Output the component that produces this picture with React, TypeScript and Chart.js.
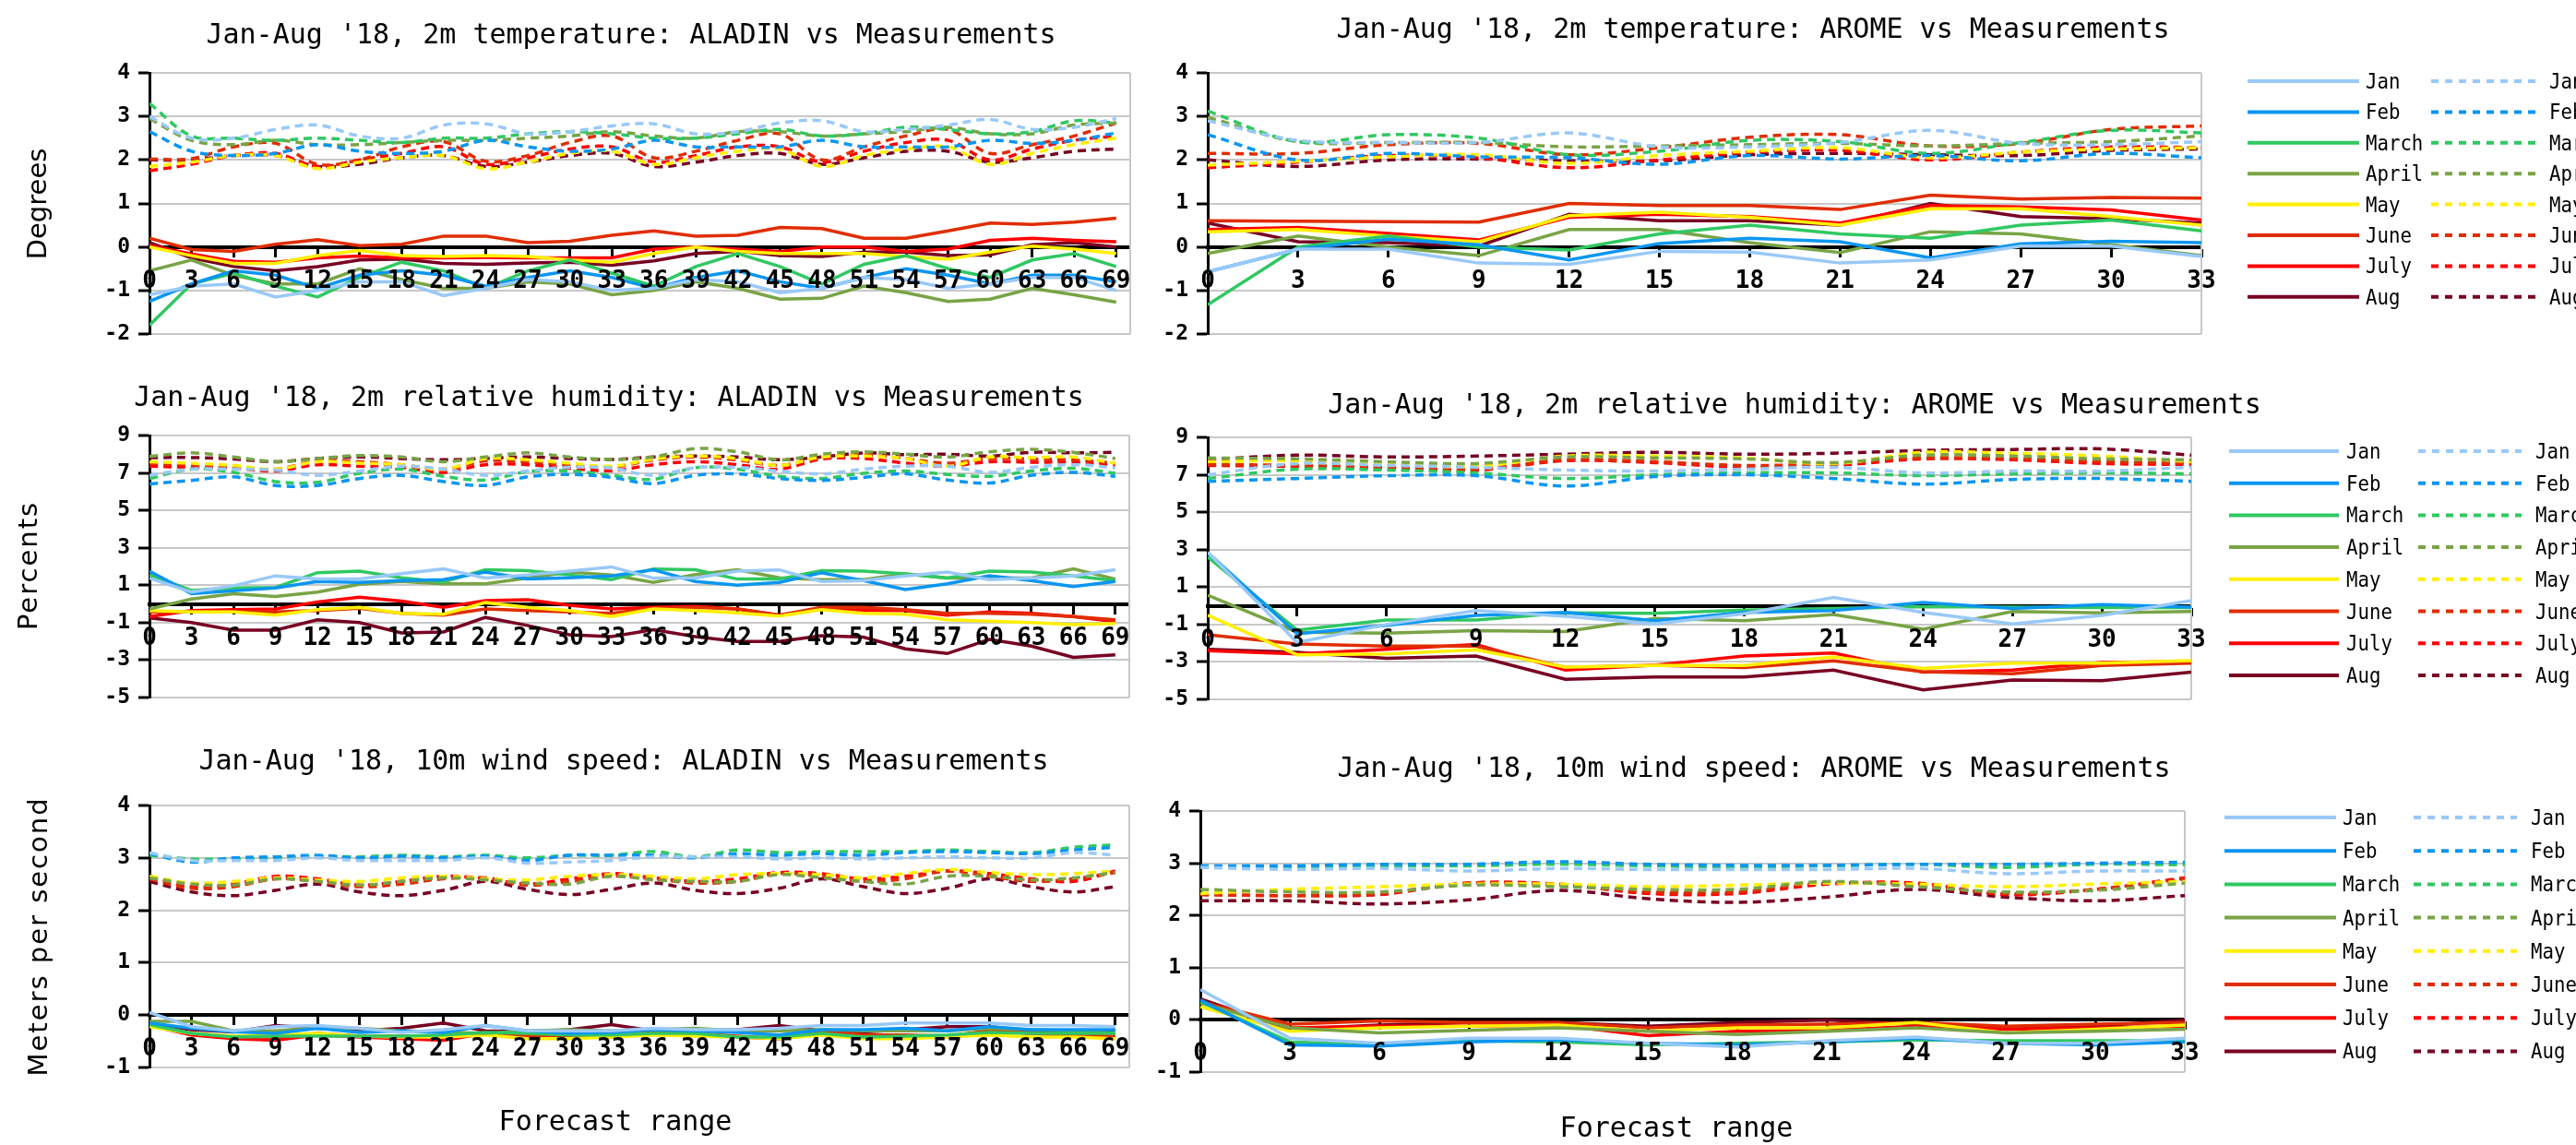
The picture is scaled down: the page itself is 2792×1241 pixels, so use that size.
import { useEffect, useRef } from "react";
import { Chart, registerables } from "chart.js";

Chart.register(...registerables);

const months = ["Jan", "Feb", "March", "April", "May", "June", "July", "Aug"];
const monthColors = ["#99c9f8", "#0a96f0", "#30c862", "#79a446", "#ffef00", "#e02d00", "#ff0000", "#780023"];

const hoursAladin = [0, 3, 6, 9, 12, 15, 18, 21, 24, 27, 30, 33, 36, 39, 42, 45, 48, 51, 54, 57, 60, 63, 66, 69];
const hoursArome = [0, 3, 6, 9, 12, 15, 18, 21, 24, 27, 30, 33];

// y axis ranges [min, max, step]
const tempAxis = [-2, 4, 1];
const humAxis = [-5, 9, 2];
const windAxis = [-1, 4, 1];

// 2m temperature, ALADIN (solid = first group, dashed = second group), one row per month
const tempAladinSolid = [
  [-1.1, -0.9, -0.85, -1.15, -1.0, -0.8, -0.8, -1.12, -0.95, -0.75, -0.8, -1.0, -0.95, -0.75, -0.8, -1.05, -0.95, -0.7, -0.75, -0.95, -0.85, -0.7, -0.7, -1.0],
  [-1.25, -0.85, -0.55, -0.65, -0.95, -0.65, -0.55, -0.65, -0.9, -0.7, -0.55, -0.7, -0.95, -0.7, -0.55, -0.8, -0.95, -0.7, -0.5, -0.65, -0.85, -0.65, -0.65, -0.8],
  [-1.8, -0.85, -0.6, -0.9, -1.15, -0.7, -0.35, -0.55, -0.95, -0.55, -0.3, -0.6, -0.9, -0.45, -0.15, -0.45, -0.85, -0.4, -0.2, -0.5, -0.7, -0.3, -0.15, -0.45],
  [-0.55, -0.3, -0.65, -0.85, -0.85, -0.5, -0.75, -0.95, -0.95, -0.8, -0.85, -1.1, -1.0, -0.8, -0.95, -1.2, -1.18, -0.9, -1.05, -1.25, -1.2, -0.95, -1.1, -1.27],
  [0, -0.2, -0.38, -0.38, -0.2, -0.08, -0.2, -0.22, -0.2, -0.22, -0.3, -0.35, -0.15, 0, -0.1, -0.15, -0.15, -0.15, -0.22, -0.28, -0.12, 0.02, -0.05, -0.15],
  [0.2, -0.06, -0.1, 0.06, 0.17, 0.03, 0.06, 0.25, 0.25, 0.1, 0.13, 0.27, 0.37, 0.25, 0.27, 0.45, 0.42, 0.2, 0.2, 0.37, 0.55, 0.52, 0.57, 0.66],
  [0.03, -0.16, -0.33, -0.35, -0.25, -0.21, -0.25, -0.25, -0.24, -0.25, -0.25, -0.25, -0.05, 0, -0.05, -0.1, 0, 0, -0.1, -0.05, 0.15, 0.2, 0.15, 0.12],
  [0.1, -0.25, -0.45, -0.55, -0.45, -0.3, -0.28, -0.38, -0.4, -0.37, -0.35, -0.42, -0.32, -0.15, -0.1, -0.2, -0.22, -0.12, -0.12, -0.2, -0.18, 0.05, 0.1, 0],
];
const tempAladinDashed = [
  [3.0, 2.5, 2.5, 2.7, 2.8, 2.55, 2.5, 2.8, 2.83, 2.6, 2.65, 2.78, 2.83, 2.6, 2.65, 2.85, 2.9, 2.65, 2.7, 2.8, 2.93, 2.7, 2.75, 2.95],
  [2.65, 2.2, 2.1, 2.15, 2.35, 2.2, 2.15, 2.2, 2.45, 2.3, 2.2, 2.25, 2.45, 2.3, 2.3, 2.3, 2.45, 2.3, 2.3, 2.3, 2.45, 2.38, 2.45, 2.62],
  [3.3, 2.55, 2.5, 2.45, 2.5, 2.45, 2.4, 2.5, 2.5, 2.6, 2.65, 2.6, 2.5, 2.5, 2.6, 2.7, 2.55, 2.6, 2.75, 2.7, 2.6, 2.65, 2.9, 2.85],
  [2.95, 2.45, 2.35, 2.45, 2.35, 2.35, 2.4, 2.45, 2.45, 2.5, 2.55, 2.65, 2.55, 2.5, 2.65, 2.65, 2.55, 2.6, 2.65, 2.75, 2.6, 2.6, 2.8, 2.85],
  [1.85, 1.95, 2.1, 2.1, 1.8, 1.95, 2.05, 2.1, 1.8, 1.95, 2.15, 2.2, 1.9, 2.05, 2.2, 2.25, 1.85, 2.1, 2.25, 2.3, 1.9, 2.15, 2.35, 2.5],
  [2.02, 2.03, 2.3, 2.38, 1.9, 2.0, 2.3, 2.42, 1.97, 2.1, 2.4, 2.55, 2.05, 2.2, 2.45, 2.6, 2.0, 2.3, 2.55, 2.7, 2.15, 2.35, 2.55, 2.85],
  [1.75, 1.9, 2.1, 2.15, 1.85, 2.0, 2.15, 2.3, 1.9, 2.05, 2.25, 2.3, 1.95, 2.1, 2.3, 2.3, 1.95, 2.2, 2.4, 2.45, 2.0, 2.25, 2.45, 2.55],
  [2.0, 2.0, 2.1, 2.1, 1.85, 1.9, 2.05, 2.1, 1.85, 1.95, 2.1, 2.15, 1.85, 1.95, 2.1, 2.15, 1.9, 2.05, 2.2, 2.2, 1.95, 2.05, 2.2, 2.25],
];

// 2m temperature, AROME
const tempAromeSolid = [
  [-0.57, -0.05, -0.05, -0.37, -0.4, -0.1, -0.12, -0.37, -0.3, 0.02, 0.02, -0.22],
  [-0.57, -0.05, 0.18, 0.05, -0.3, 0.08, 0.2, 0.12, -0.25, 0.07, 0.13, 0.1],
  [-1.33, 0.0, 0.25, 0.0, -0.07, 0.3, 0.5, 0.3, 0.2, 0.5, 0.62, 0.37],
  [-0.15, 0.25, 0.0, -0.2, 0.4, 0.4, 0.1, -0.13, 0.35, 0.3, 0.05, -0.2],
  [0.35, 0.4, 0.25, 0.12, 0.72, 0.8, 0.68, 0.5, 0.88, 0.88, 0.7, 0.5],
  [0.6, 0.59, 0.58, 0.57, 1.0, 0.95, 0.95, 0.86, 1.19, 1.1, 1.14, 1.12],
  [0.4, 0.45, 0.31, 0.16, 0.68, 0.75, 0.7, 0.55, 0.95, 0.92, 0.85, 0.62],
  [0.55, 0.12, 0.1, 0.02, 0.75, 0.6, 0.6, 0.5, 1.0, 0.7, 0.65, 0.55],
];
const tempAromeDashed = [
  [2.9, 2.45, 2.4, 2.4, 2.62, 2.3, 2.3, 2.4, 2.68, 2.38, 2.35, 2.42],
  [2.58, 2.0, 2.15, 2.07, 2.05, 1.9, 2.1, 2.02, 2.1, 1.98, 2.15, 2.05],
  [3.12, 2.42, 2.58, 2.5, 2.12, 2.2, 2.45, 2.42, 2.15, 2.4, 2.68, 2.62],
  [2.98, 2.42, 2.4, 2.4, 2.3, 2.32, 2.35, 2.38, 2.32, 2.38, 2.42, 2.55],
  [1.88, 1.97, 2.07, 2.12, 1.92, 2.1, 2.2, 2.28, 2.05, 2.18, 2.25, 2.28],
  [2.15, 2.15, 2.35, 2.38, 2.12, 2.28, 2.52, 2.58, 2.32, 2.38, 2.7, 2.78],
  [1.82, 1.95, 2.1, 2.05, 1.82, 2.0, 2.18, 2.22, 2.0, 2.18, 2.3, 2.28],
  [2.0, 1.85, 2.0, 2.02, 1.98, 1.98, 2.12, 2.15, 2.12, 2.1, 2.22, 2.25],
];

// 2m relative humidity, ALADIN
const humAladinSolid = [
  [1.38, 0.64, 0.97, 1.5, 1.33, 1.33, 1.62, 1.87, 1.38, 1.55, 1.75, 1.98, 1.38, 1.38, 1.75, 1.82, 1.2, 1.25, 1.5, 1.7, 1.3, 1.38, 1.5, 1.83],
  [1.75, 0.55, 0.7, 0.85, 1.2, 1.15, 1.25, 1.3, 1.7, 1.33, 1.4, 1.5, 1.83, 1.2, 1.0, 1.15, 1.67, 1.25, 0.77, 1.08, 1.5, 1.25, 0.93, 1.2],
  [1.55, 0.72, 0.85, 0.88, 1.67, 1.75, 1.4, 1.18, 1.83, 1.78, 1.55, 1.3, 1.87, 1.83, 1.33, 1.33, 1.78, 1.75, 1.6, 1.38, 1.75, 1.7, 1.5, 1.25],
  [-0.27, 0.26, 0.55, 0.4, 0.63, 1.05, 1.2, 1.08, 1.08, 1.38, 1.7, 1.55, 1.15, 1.57, 1.83, 1.4, 1.3, 1.3, 1.6, 1.38, 1.4, 1.38, 1.87, 1.33],
  [-0.35, -0.43, -0.43, -0.6, -0.3, -0.18, -0.5, -0.55, 0.07, -0.18, -0.35, -0.67, -0.27, -0.35, -0.48, -0.65, -0.3, -0.5, -0.55, -0.85, -0.92, -1.0, -1.1, -1.05],
  [-0.43, -0.4, -0.4, -0.43, -0.35, -0.23, -0.5, -0.6, -0.27, -0.35, -0.43, -0.5, -0.23, -0.18, -0.27, -0.6, -0.18, -0.18, -0.3, -0.5, -0.5, -0.55, -0.67, -0.85],
  [-0.67, -0.35, -0.3, -0.27, 0.1, 0.36, 0.15, -0.18, 0.18, 0.23, -0.07, -0.27, -0.18, -0.13, -0.27, -0.6, -0.27, -0.35, -0.35, -0.6, -0.43, -0.5, -0.67, -0.95],
  [-0.75, -1.0, -1.4, -1.4, -0.85, -1.0, -1.55, -1.5, -0.72, -1.15, -1.65, -1.75, -1.38, -1.75, -2.0, -2.0, -1.7, -1.77, -2.4, -2.65, -1.9, -2.25, -2.85, -2.72],
];
const humAladinDashed = [
  [6.87, 7.2, 7.2, 7.15, 6.87, 7.1, 7.36, 7.2, 6.87, 7.1, 7.3, 7.25, 6.87, 7.28, 7.3, 7.1, 6.95, 7.2, 7.36, 7.36, 7.03, 7.3, 7.44, 7.28],
  [6.41, 6.6, 6.79, 6.33, 6.33, 6.7, 6.87, 6.54, 6.33, 6.79, 6.92, 6.76, 6.43, 6.87, 6.95, 6.7, 6.6, 6.76, 6.95, 6.62, 6.46, 6.87, 7.03, 6.82],
  [6.7, 7.2, 7.03, 6.54, 6.5, 6.98, 7.2, 6.82, 6.62, 7.07, 7.1, 6.87, 6.66, 7.28, 7.2, 6.82, 6.7, 6.98, 7.1, 6.92, 6.82, 7.1, 7.25, 6.98],
  [7.88, 8.07, 7.85, 7.6, 7.77, 7.93, 7.85, 7.6, 7.85, 8.07, 7.85, 7.72, 7.85, 8.3, 8.13, 7.7, 8.0, 8.13, 8.0, 7.85, 8.13, 8.26, 8.1, 7.77],
  [7.6, 7.52, 7.4, 7.2, 7.6, 7.52, 7.44, 7.2, 7.77, 7.7, 7.52, 7.36, 7.74, 7.9, 7.77, 7.4, 7.85, 7.9, 7.77, 7.36, 7.85, 7.82, 7.85, 7.52],
  [7.52, 7.41, 7.31, 7.2, 7.64, 7.6, 7.44, 7.2, 7.64, 7.6, 7.41, 7.31, 7.69, 7.85, 7.69, 7.41, 7.8, 7.96, 7.77, 7.52, 7.77, 7.74, 7.69, 7.52],
  [7.36, 7.3, 7.25, 7.1, 7.44, 7.36, 7.3, 7.03, 7.44, 7.44, 7.25, 7.12, 7.44, 7.6, 7.44, 7.2, 7.74, 7.77, 7.52, 7.36, 7.6, 7.57, 7.57, 7.4],
  [7.82, 7.82, 7.74, 7.6, 7.77, 7.85, 7.77, 7.7, 7.77, 7.85, 7.77, 7.72, 7.85, 7.9, 7.85, 7.7, 7.85, 8.07, 7.97, 8.0, 7.9, 8.1, 8.07, 8.1],
];

// 2m relative humidity, AROME
const humAromeSolid = [
  [2.86, -1.96, -1.0, -0.26, -0.56, -0.97, -0.43, 0.44, -0.35, -0.97, -0.51, 0.28],
  [2.83, -1.5, -1.04, -0.51, -0.35, -0.8, -0.35, -0.26, 0.18, -0.15, 0.07, -0.07],
  [2.6, -1.3, -0.76, -0.76, -0.38, -0.4, -0.23, -0.15, -0.05, -0.07, -0.1, -0.1],
  [0.56, -1.41, -1.46, -1.33, -1.38, -0.67, -0.8, -0.46, -1.25, -0.31, -0.38, -0.31],
  [-0.51, -2.62, -2.57, -2.35, -3.27, -3.19, -3.19, -2.73, -3.35, -3.06, -3.06, -2.93],
  [-1.55, -2.04, -2.15, -2.15, -3.3, -3.17, -3.3, -2.94, -3.52, -3.63, -3.19, -3.06],
  [-2.4, -2.57, -2.32, -2.07, -3.44, -3.17, -2.68, -2.52, -3.55, -3.44, -3.03, -2.98],
  [-2.32, -2.48, -2.81, -2.68, -3.93, -3.8, -3.8, -3.44, -4.49, -3.96, -4.0, -3.55],
];
const humAromeDashed = [
  [7.0, 7.6, 7.5, 7.4, 7.25, 7.2, 7.3, 7.4, 7.1, 7.2, 7.2, 7.4],
  [6.65, 6.8, 6.95, 6.95, 6.4, 6.9, 7.0, 6.8, 6.5, 6.75, 6.8, 6.65],
  [6.8, 7.3, 7.25, 7.1, 6.8, 7.0, 7.1, 7.1, 6.95, 7.05, 7.1, 7.05],
  [7.9, 7.85, 7.7, 7.6, 7.95, 7.9, 7.85, 7.65, 8.05, 8.0, 7.85, 7.8],
  [7.7, 7.75, 7.6, 7.45, 8.0, 8.0, 7.9, 7.6, 8.2, 8.15, 8.0, 7.7],
  [7.55, 7.5, 7.4, 7.3, 7.8, 7.7, 7.5, 7.6, 7.9, 7.85, 7.7, 7.6],
  [7.5, 7.45, 7.35, 7.25, 7.75, 7.65, 7.4, 7.5, 7.85, 7.8, 7.6, 7.55],
  [7.8, 8.05, 7.95, 8.0, 8.1, 8.2, 8.1, 8.15, 8.3, 8.35, 8.38, 8.05],
];

// 10m wind speed, ALADIN
const windAladinSolid = [
  [0.05, -0.22, -0.3, -0.22, -0.2, -0.25, -0.33, -0.28, -0.2, -0.3, -0.3, -0.3, -0.25, -0.28, -0.28, -0.25, -0.2, -0.2, -0.15, -0.15, -0.15, -0.2, -0.2, -0.22],
  [-0.15, -0.25, -0.32, -0.35, -0.25, -0.33, -0.3, -0.33, -0.2, -0.3, -0.35, -0.33, -0.28, -0.3, -0.33, -0.38, -0.28, -0.28, -0.25, -0.3, -0.22, -0.28, -0.28, -0.28],
  [-0.18, -0.35, -0.42, -0.4, -0.4, -0.4, -0.4, -0.38, -0.33, -0.35, -0.38, -0.38, -0.35, -0.35, -0.42, -0.42, -0.35, -0.42, -0.4, -0.38, -0.33, -0.35, -0.35, -0.35],
  [-0.12, -0.12, -0.3, -0.3, -0.25, -0.25, -0.3, -0.32, -0.35, -0.3, -0.28, -0.3, -0.28, -0.25, -0.3, -0.3, -0.28, -0.3, -0.3, -0.3, -0.25, -0.28, -0.3, -0.35],
  [-0.22, -0.35, -0.4, -0.38, -0.35, -0.4, -0.42, -0.42, -0.38, -0.45, -0.45, -0.42, -0.38, -0.4, -0.42, -0.45, -0.38, -0.45, -0.45, -0.42, -0.38, -0.42, -0.42, -0.45],
  [-0.2, -0.35, -0.42, -0.42, -0.35, -0.4, -0.4, -0.42, -0.35, -0.38, -0.42, -0.4, -0.33, -0.35, -0.4, -0.45, -0.33, -0.38, -0.38, -0.4, -0.3, -0.35, -0.38, -0.38],
  [-0.2, -0.38, -0.45, -0.48, -0.38, -0.42, -0.45, -0.48, -0.35, -0.4, -0.42, -0.42, -0.35, -0.38, -0.42, -0.45, -0.32, -0.38, -0.4, -0.42, -0.3, -0.35, -0.4, -0.4],
  [-0.18, -0.28, -0.32, -0.2, -0.25, -0.3, -0.25, -0.15, -0.3, -0.32, -0.28, -0.18, -0.3, -0.3, -0.28, -0.2, -0.3, -0.32, -0.28, -0.22, -0.22, -0.3, -0.32, -0.28],
];
const windAladinDashed = [
  [3.1, 2.95, 2.95, 2.95, 3.0, 2.95, 2.95, 2.95, 3.0, 2.9, 2.92, 2.95, 3.02, 3.02, 3.02, 2.98, 3.0, 2.98, 3.0, 3.02, 3.0, 3.0, 3.1, 3.05],
  [3.08, 2.92, 3.0, 3.02, 3.05, 3.0, 3.03, 3.0, 3.03, 2.95, 3.05, 3.05, 3.05, 3.0, 3.08, 3.05, 3.08, 3.05, 3.1, 3.12, 3.1, 3.08, 3.15, 3.2],
  [3.05, 2.98, 2.98, 3.0, 3.03, 3.02, 3.05, 3.02, 3.05, 3.0, 3.05, 3.05, 3.12, 3.02, 3.15, 3.1, 3.12, 3.12, 3.12, 3.15, 3.12, 3.1, 3.2, 3.25],
  [2.62, 2.5, 2.48, 2.6, 2.55, 2.48, 2.55, 2.62, 2.58, 2.52, 2.5, 2.65, 2.58, 2.55, 2.55, 2.68, 2.62, 2.55, 2.5, 2.65, 2.65, 2.58, 2.62, 2.72],
  [2.65, 2.52, 2.55, 2.62, 2.58, 2.55, 2.62, 2.65, 2.6, 2.58, 2.65, 2.68, 2.65, 2.6, 2.68, 2.7, 2.68, 2.62, 2.7, 2.78, 2.72, 2.68, 2.7, 2.75],
  [2.6, 2.42, 2.45, 2.6, 2.55, 2.45, 2.5, 2.6, 2.62, 2.48, 2.55, 2.65, 2.6, 2.52, 2.55, 2.7, 2.65, 2.55, 2.6, 2.75, 2.65, 2.55, 2.6, 2.72],
  [2.65, 2.45, 2.5, 2.65, 2.6, 2.48, 2.55, 2.65, 2.6, 2.5, 2.6, 2.7, 2.62, 2.55, 2.6, 2.72, 2.7, 2.6, 2.65, 2.75, 2.7, 2.6, 2.55, 2.75],
  [2.55, 2.35, 2.28, 2.38, 2.5, 2.35, 2.28, 2.38, 2.55, 2.4, 2.3, 2.4, 2.52, 2.38, 2.32, 2.42, 2.6, 2.45, 2.32, 2.42, 2.6, 2.45, 2.35, 2.45],
];

// 10m wind speed, AROME
const windAromeSolid = [
  [0.58, -0.35, -0.45, -0.35, -0.35, -0.45, -0.52, -0.4, -0.33, -0.45, -0.45, -0.35],
  [0.38, -0.48, -0.5, -0.42, -0.38, -0.45, -0.48, -0.42, -0.35, -0.45, -0.48, -0.42],
  [0.35, -0.42, -0.48, -0.4, -0.42, -0.48, -0.45, -0.42, -0.38, -0.4, -0.4, -0.4],
  [0.32, -0.15, -0.25, -0.2, -0.15, -0.22, -0.28, -0.22, -0.15, -0.25, -0.22, -0.18],
  [0.25, -0.22, -0.15, -0.12, -0.1, -0.22, -0.15, -0.15, -0.05, -0.25, -0.18, -0.1],
  [0.35, -0.08, -0.02, -0.05, -0.05, -0.15, -0.1, -0.08, -0.05, -0.12, -0.08, -0.05],
  [0.35, -0.15, -0.12, -0.12, -0.1, -0.3, -0.22, -0.2, -0.12, -0.18, -0.15, -0.12],
  [0.4, -0.18, -0.1, -0.05, -0.05, -0.12, -0.05, 0.0, -0.08, -0.18, -0.12, 0.0],
];
const windAromeDashed = [
  [2.92, 2.88, 2.9, 2.85, 2.9, 2.88, 2.88, 2.88, 2.9, 2.8, 2.85, 2.85],
  [2.95, 2.95, 2.98, 2.98, 3.03, 2.98, 2.96, 2.96, 2.98, 2.98, 3.0, 3.02],
  [2.92, 2.92, 2.95, 2.95, 2.98, 2.95, 2.93, 2.95, 2.98, 2.92, 2.98, 2.97],
  [2.5, 2.45, 2.45, 2.58, 2.55, 2.5, 2.5, 2.65, 2.55, 2.45, 2.48, 2.62],
  [2.42, 2.5, 2.55, 2.6, 2.6, 2.55, 2.58, 2.62, 2.6, 2.55, 2.6, 2.65],
  [2.4, 2.38, 2.42, 2.62, 2.58, 2.45, 2.45, 2.62, 2.58, 2.42, 2.5, 2.7],
  [2.4, 2.38, 2.4, 2.62, 2.6, 2.42, 2.42, 2.6, 2.62, 2.4, 2.5, 2.72],
  [2.28, 2.28, 2.22, 2.3, 2.48, 2.32, 2.25, 2.35, 2.5, 2.35, 2.28, 2.38],
];

const MONO = "'DejaVu Sans Mono', monospace";
const SANS = "'DejaVu Sans', sans-serif";
const GRID = "#c8c8c8";

type Legend = { x1: number; x2: number; t1: number; d1: number; d2: number; t2: number; y0: number; step: number };
type PanelSpec = {
  left: number; top: number; width: number; height: number;
  area: [number, number, number, number]; // left, top, right, bottom inside the canvas
  hours: number[]; xMax: number; axis: number[];
  solid: number[][]; dashed: number[][];
  title: string; titleX: number; titleY: number;
  yTitle?: { text: string; x: number; y: number; spacing: number };
  xTitle?: [number, number];
  legend?: Legend;
};

const panels: PanelSpec[] = [
  {
    left: 0, top: 0, width: 1240, height: 400, area: [162, 79, 1225, 362],
    hours: hoursAladin, xMax: 70, axis: tempAxis, solid: tempAladinSolid, dashed: tempAladinDashed,
    title: "Jan-Aug '18, 2m temperature: ALADIN vs Measurements", titleX: 684, titleY: 47,
    yTitle: { text: "Degrees", x: 42, y: 221, spacing: 0 },
  },
  {
    left: 1240, top: 0, width: 1552, height: 400, area: [69, 79, 1146, 362],
    hours: hoursArome, xMax: 33, axis: tempAxis, solid: tempAromeSolid, dashed: tempAromeDashed,
    title: "Jan-Aug '18, 2m temperature: AROME vs Measurements", titleX: 660, titleY: 41,
    legend: { x1: 1196, x2: 1317, t1: 1324, d1: 1395, d2: 1508, t2: 1523, y0: 88, step: 33.4 },
  },
  {
    left: 0, top: 400, width: 1240, height: 400, area: [162, 72, 1224, 356],
    hours: hoursAladin, xMax: 70, axis: humAxis, solid: humAladinSolid, dashed: humAladinDashed,
    title: "Jan-Aug '18, 2m relative humidity: ALADIN vs Measurements", titleX: 660, titleY: 40,
    yTitle: { text: "Percents", x: 32, y: 213, spacing: 2 },
  },
  {
    left: 1240, top: 400, width: 1552, height: 400, area: [69, 74, 1135, 358],
    hours: hoursArome, xMax: 33, axis: humAxis, solid: humAromeSolid, dashed: humAromeDashed,
    title: "Jan-Aug '18, 2m relative humidity: AROME vs Measurements", titleX: 705, titleY: 48,
    legend: { x1: 1176, x2: 1295, t1: 1303, d1: 1381, d2: 1493, t2: 1508, y0: 89, step: 34.7 },
  },
  {
    left: 0, top: 800, width: 1240, height: 441, area: [162, 73, 1224, 357],
    hours: hoursAladin, xMax: 70, axis: windAxis, solid: windAladinSolid, dashed: windAladinDashed,
    title: "Jan-Aug '18, 10m wind speed: ALADIN vs Measurements", titleX: 676, titleY: 34,
    yTitle: { text: "Meters per second", x: 43, y: 215, spacing: 2 },
    xTitle: [667, 425],
  },
  {
    left: 1240, top: 800, width: 1552, height: 441, area: [61, 79, 1128, 362],
    hours: hoursArome, xMax: 33, axis: windAxis, solid: windAromeSolid, dashed: windAromeDashed,
    title: "Jan-Aug '18, 10m wind speed: AROME vs Measurements", titleX: 661, titleY: 42,
    xTitle: [577, 432],
    legend: { x1: 1171, x2: 1292, t1: 1299, d1: 1376, d2: 1488, t2: 1503, y0: 86, step: 36.2 },
  },
];

function drawCondensed(ctx: CanvasRenderingContext2D, text: string, x: number, y: number) {
  ctx.save();
  ctx.translate(x, y);
  ctx.scale(0.9, 1);
  ctx.fillText(text, 0, 0);
  ctx.restore();
}

function decorPlugin(p: PanelSpec) {
  return {
    id: "decor",
    beforeDatasetsDraw(chart: any) {
      const { ctx, chartArea: a } = chart;
      ctx.save();
      ctx.strokeStyle = GRID;
      ctx.lineWidth = 2;
      ctx.beginPath();
      ctx.moveTo(a.right, a.top);
      ctx.lineTo(a.right, a.bottom);
      ctx.stroke();
      ctx.restore();
    },
    afterDatasetsDraw(chart: any) {
      // hour labels sit under the zero line, on top of the series
      const ctx: CanvasRenderingContext2D = chart.ctx;
      const xs = chart.scales.x;
      const y0 = chart.scales.y.getPixelForValue(0);
      ctx.save();
      ctx.fillStyle = "#000";
      ctx.textAlign = "center";
      ctx.textBaseline = "alphabetic";
      ctx.font = `bold 26px ${MONO}`;
      for (const t of xs.ticks) {
        ctx.fillText(String(t.value), xs.getPixelForValue(t.value), y0 + 44);
      }
      ctx.restore();
    },
    afterDraw(chart: any) {
      const ctx: CanvasRenderingContext2D = chart.ctx;
      ctx.save();
      ctx.fillStyle = "#000";
      ctx.textAlign = "center";
      ctx.textBaseline = "alphabetic";
      ctx.font = `30px ${MONO}`;
      ctx.fillText(p.title, p.titleX, p.titleY);
      if (p.xTitle) ctx.fillText("Forecast range", p.xTitle[0], p.xTitle[1]);

      if (p.yTitle) {
        ctx.save();
        ctx.translate(p.yTitle.x, p.yTitle.y);
        ctx.rotate(-Math.PI / 2);
        ctx.font = `29px ${SANS}`;
        (ctx as any).letterSpacing = `${p.yTitle.spacing}px`;
        ctx.textBaseline = "middle";
        ctx.fillText(p.yTitle.text, 0, 0);
        ctx.restore();
      }

      const lg = p.legend;
      if (lg) {
        const ds = chart.data.datasets;
        ctx.font = `23px ${MONO}`;
        ctx.textAlign = "left";
        ctx.lineWidth = 4;
        for (let i = 0; i < months.length; i++) {
          const y = lg.y0 + i * lg.step;
          const solid = ds[i];
          const dashed = ds[i + months.length];
          ctx.strokeStyle = solid.borderColor;
          ctx.setLineDash([]);
          ctx.beginPath();
          ctx.moveTo(lg.x1, y);
          ctx.lineTo(lg.x2, y);
          ctx.stroke();
          ctx.strokeStyle = dashed.borderColor;
          ctx.setLineDash([8, 7]);
          ctx.beginPath();
          ctx.moveTo(lg.d1, y);
          ctx.lineTo(lg.d2, y);
          ctx.stroke();
          drawCondensed(ctx, solid.label, lg.t1, y + 8);
          drawCondensed(ctx, dashed.label, lg.t2, y + 8);
        }
      }
      ctx.restore();
    },
  };
}

function ChartPanel({ spec }: { spec: PanelSpec }) {
  const chartRef = useRef<HTMLCanvasElement>(null);

  useEffect(() => {
    if (!chartRef.current) return;
    const [aL, aT, aR, aB] = spec.area;
    const yWidth = 60;
    const [yMin, yMax, yStep] = spec.axis;

    const toPoints = (vals: number[]) => spec.hours.map((h, i) => ({ x: h, y: vals[i] }));
    const datasets = [
      ...spec.solid.map((vals, m) => ({
        label: months[m],
        data: toPoints(vals),
        borderColor: monthColors[m],
        borderWidth: 3.5,
        pointRadius: 0,
        tension: 0,
        fill: false,
      })),
      ...spec.dashed.map((vals, m) => ({
        label: months[m],
        data: toPoints(vals),
        borderColor: monthColors[m],
        borderWidth: 3.5,
        borderDash: [9, 6],
        pointRadius: 0,
        tension: 0.35,
        fill: false,
      })),
    ];

    const chart = new Chart(chartRef.current, {
      type: "line",
      data: { datasets },
      plugins: [decorPlugin(spec)],
      options: {
        animation: false,
        responsive: false,
        events: [],
        layout: {
          padding: { left: aL - yWidth, top: aT, right: spec.width - aR, bottom: spec.height - aB },
        },
        plugins: { legend: { display: false }, tooltip: { enabled: false }, title: { display: false } },
        scales: {
          x: {
            type: "linear",
            min: 0,
            max: spec.xMax,
            bounds: "data",
            position: { y: 0 },
            afterBuildTicks: (s: any) => {
              s.ticks = spec.hours.map((v) => ({ value: v }));
            },
            border: { color: "#000", width: 4 },
            grid: { display: true, drawOnChartArea: false, drawTicks: true, tickLength: 9, tickWidth: 3, tickColor: "#000" },
            ticks: { display: false, autoSkip: false, maxRotation: 0, minRotation: 0 },
          },
          y: {
            min: yMin,
            max: yMax,
            afterFit: (s: any) => {
              s.width = yWidth;
            },
            border: { color: "#000", width: 3 },
            grid: { color: GRID, lineWidth: 2, tickColor: "#000", tickLength: 12, tickWidth: 3 },
            ticks: {
              stepSize: yStep,
              color: "#000",
              font: { family: MONO, size: 23, weight: "bold" },
              padding: 9,
            },
          },
        },
      } as any,
    });

    return () => chart.destroy();
  }, [spec]);

  return (
    <div style={{ position: "absolute", left: spec.left, top: spec.top, width: spec.width, height: spec.height }}>
      <canvas
        ref={chartRef}
        width={spec.width}
        height={spec.height}
        style={{ display: "block", width: spec.width, height: spec.height }}
      />
    </div>
  );
}

export default function App() {
  useEffect(() => {
    document.documentElement.style.overflow = "hidden";
  }, []);

  return (
    <div
      style={{
        position: "absolute",
        left: 0,
        top: 0,
        width: 2792,
        height: 1241,
        overflow: "hidden",
        background: "#fff",
      }}
    >
      {panels.map((p, i) => (
        <ChartPanel key={i} spec={p} />
      ))}
    </div>
  );
}
